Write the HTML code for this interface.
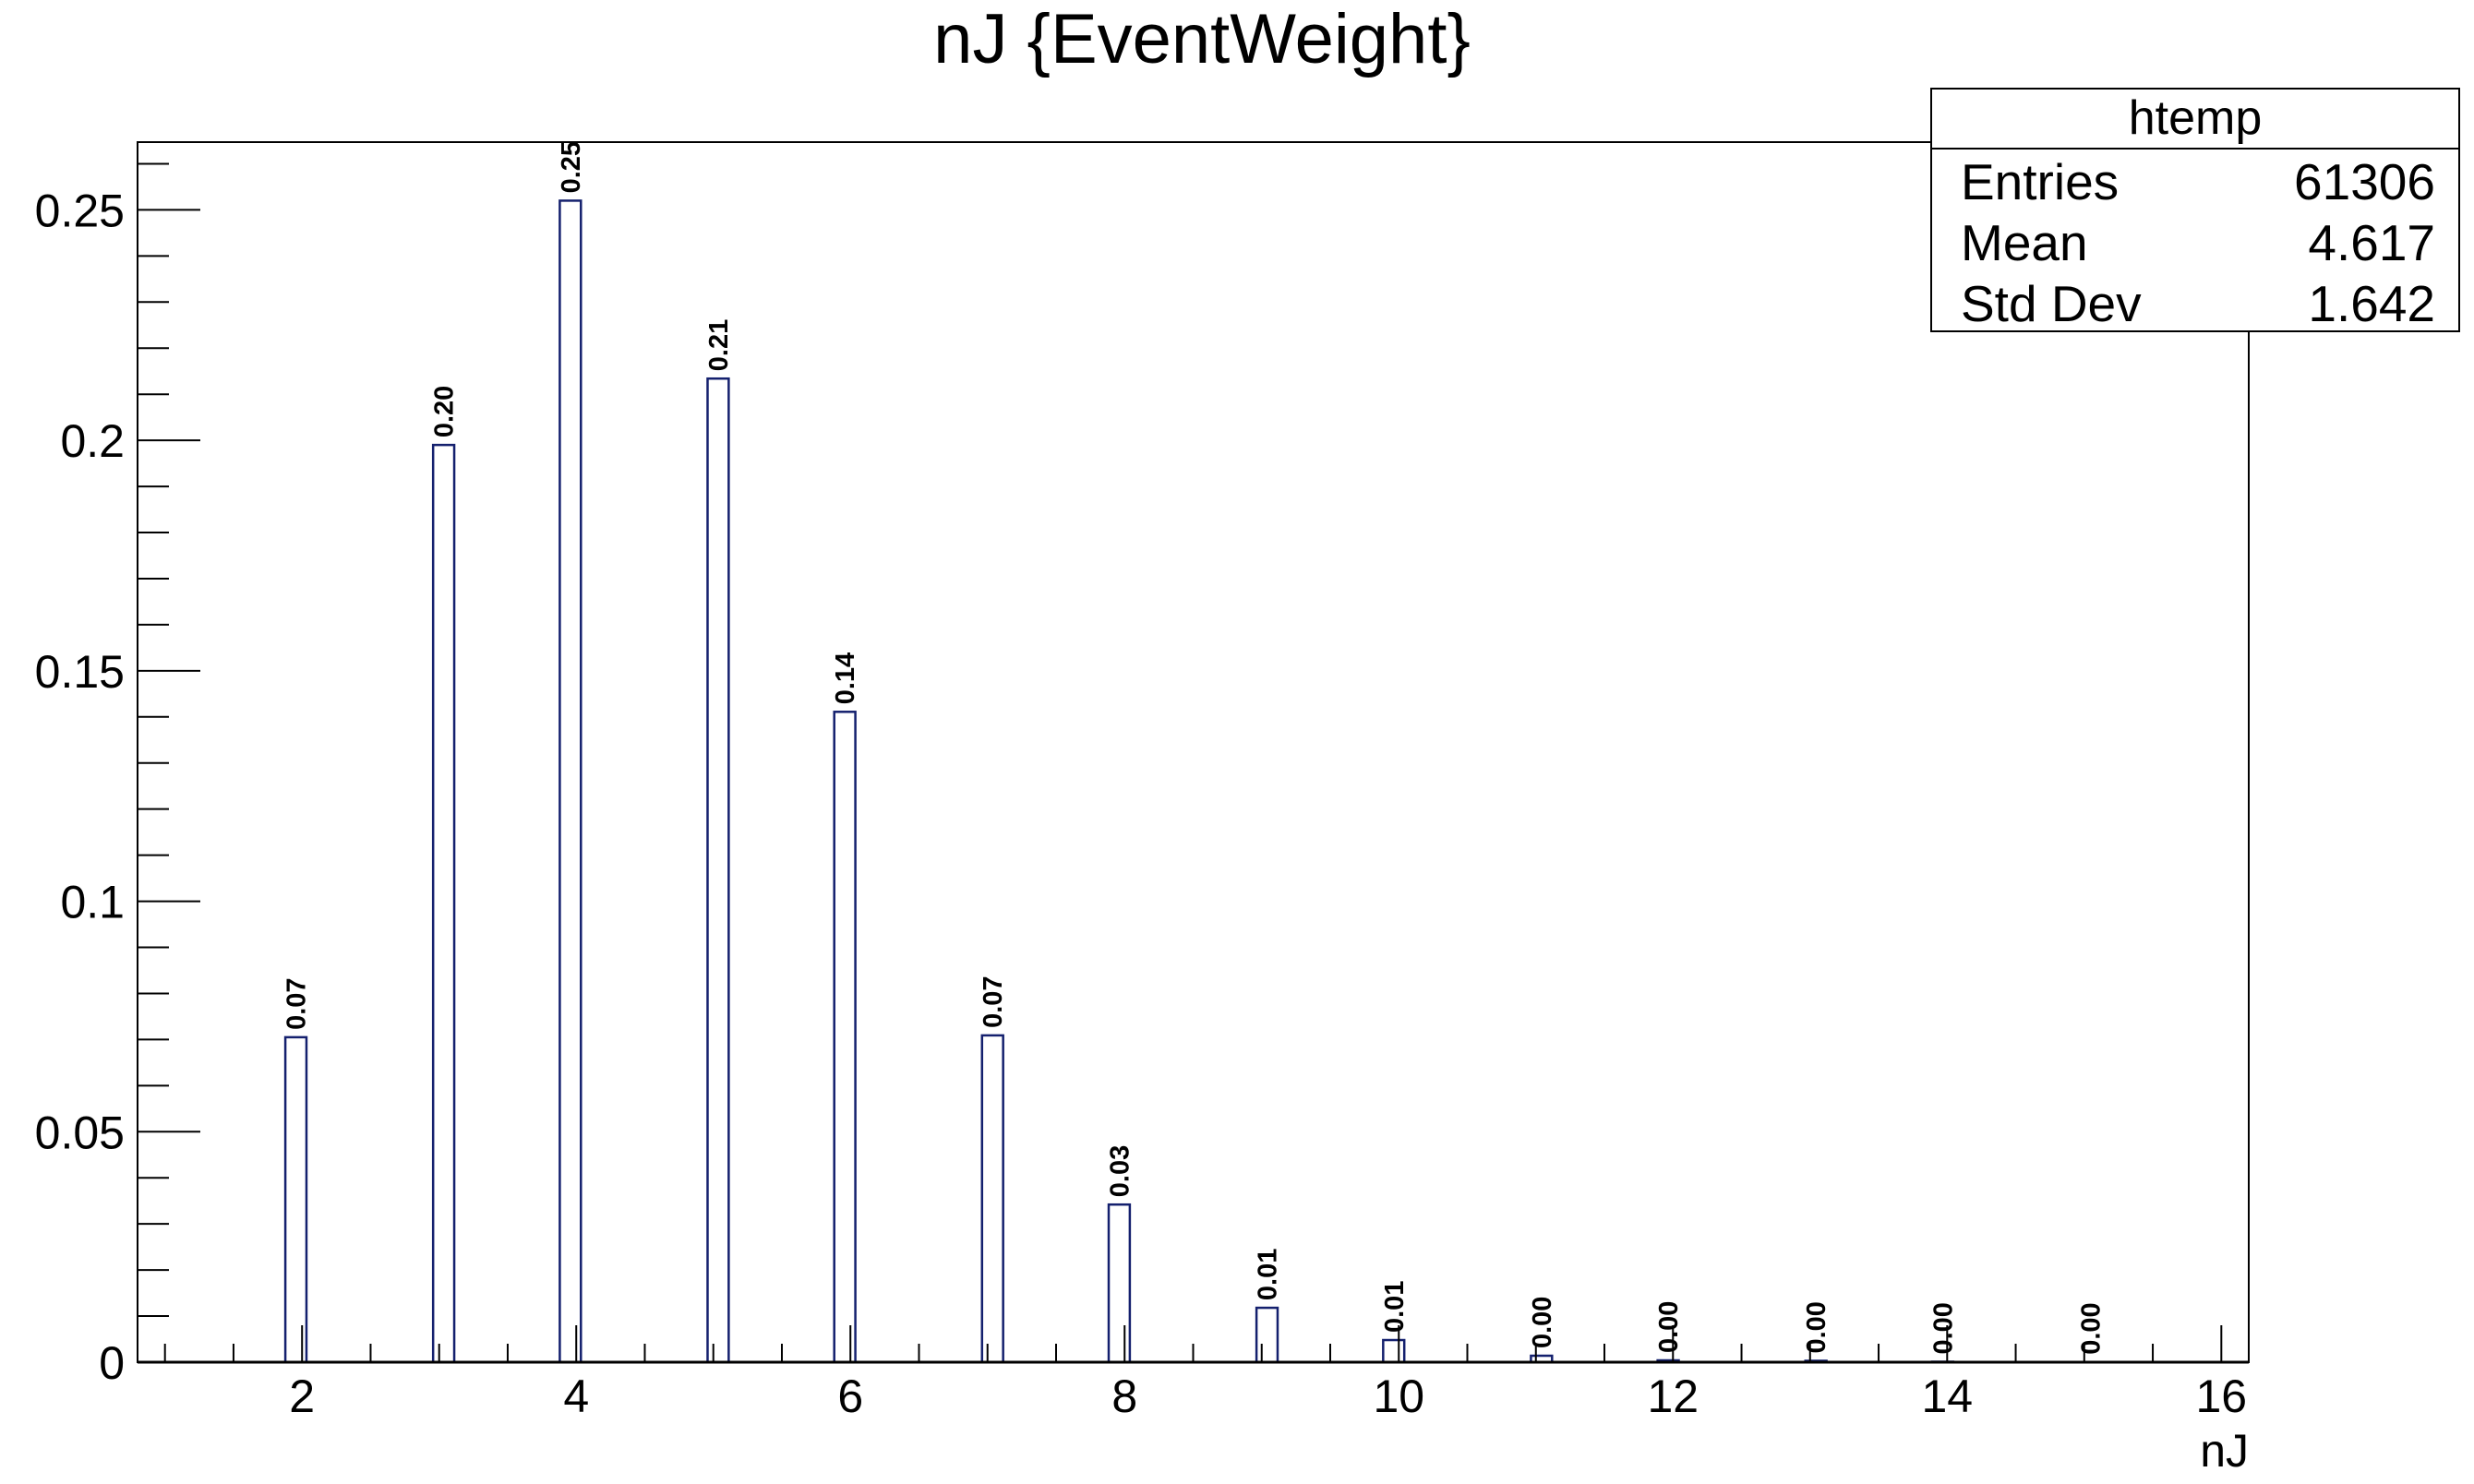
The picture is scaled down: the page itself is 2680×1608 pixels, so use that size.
<!DOCTYPE html>
<html><head><meta charset="utf-8"><style>
html,body{margin:0;padding:0;background:#fff}
svg{display:block}
text{font-family:"Liberation Sans",sans-serif}
</style></head><body>
<svg id="chart" width="2680" height="1608" viewBox="0 0 2680 1608" xmlns="http://www.w3.org/2000/svg">
<rect width="2680" height="1608" fill="#fff"/>
<text x="1302" y="68" font-size="76" text-anchor="middle">nJ {EventWeight}</text>
<rect x="149" y="154" width="2287" height="1322" fill="none" stroke="#000" stroke-width="2"/>
<g id="bars"></g>
<g id="axes"></g>
<g id="labels"></g>
<text x="2436" y="1589" font-size="50" text-anchor="end">nJ</text>
<g>
<rect x="2092" y="96" width="572" height="263" fill="#fff" stroke="#000" stroke-width="2"/>
<line x1="2092" y1="161" x2="2664" y2="161" stroke="#000" stroke-width="2"/>
<text x="2378" y="145" font-size="52" text-anchor="middle">htemp</text>
<text x="2124" y="216" font-size="55">Entries</text>
<text x="2638" y="216" font-size="55" text-anchor="end">61306</text>
<text x="2124" y="282" font-size="55">Mean</text>
<text x="2638" y="282" font-size="55" text-anchor="end">4.617</text>
<text x="2124" y="348" font-size="55">Std Dev</text>
<text x="2638" y="348" font-size="55" text-anchor="end">1.642</text>
</g>
</svg>
<script>
const categories = [2,3,4,5,6,7,8,9,10,11,12,13,14,15];
const values = [0.0705,0.199,0.252,0.2134,0.1411,0.0709,0.0342,0.0118,0.0048,0.0014,0.0004,0.0003,0.0001,0.00005];
const valueLabels = ["0.07","0.20","0.25","0.21","0.14","0.07","0.03","0.01","0.01","0.00","0.00","0.00","0.00","0.00"];
const xTickValues = [2,4,6,8,10,12,14,16];
const yTickValues = [0,0.05,0.1,0.15,0.2,0.25];
const yTickLabels = ["0","0.05","0.1","0.15","0.2","0.25"];

const NS="http://www.w3.org/2000/svg";
const X0=149,X1=2436,Y0=1476,Y1=154;
const XMIN=0.8,XMAX=16.2,YMIN=0,YMAX=0.2647,NBINS=100;
const BW=(XMAX-XMIN)/NBINS;
function xs(v){return X0+(v-XMIN)/(XMAX-XMIN)*(X1-X0);}
function ys(v){return Y0-(v-YMIN)/(YMAX-YMIN)*(Y0-Y1);}
function mk(tag,attrs,parent){const e=document.createElementNS(NS,tag);for(const k in attrs)e.setAttribute(k,attrs[k]);parent.appendChild(e);return e;}
const gb=document.getElementById('bars'),ga=document.getElementById('axes'),gl=document.getElementById('labels');

categories.forEach((c,i)=>{
  const k=Math.floor((c-XMIN)/BW+1e-9);
  const lo=XMIN+k*BW,hi=lo+BW;
  const xa=xs(lo),xb=xs(hi),yt=ys(values[i]);
  const r=mk('rect',{x:xa,y:yt,width:xb-xa,height:Math.max(Y0-yt,0.5),fill:'none',stroke:'#14206e','stroke-width':2.5},gb);
  
  
  const cx=(xa+xb)/2+10, ty=yt-8;
  const t=mk('text',{x:cx,y:ty,'font-size':29,'font-weight':'bold',transform:'rotate(-90 '+cx+' '+ty+')'},gl);
  t.textContent=valueLabels[i];
  
  
});

for(let v=1;v<=16.0001;v+=0.5){
  const major=Math.abs(v/2-Math.round(v/2))<1e-6;
  const x=xs(v);
  const l=mk('line',{x1:x,x2:x,y1:Y0,y2:Y0-(major?40:20),stroke:'#000','stroke-width':2},ga);
  
  
}
xTickValues.forEach(v=>{
  const t=mk('text',{x:xs(v),y:1530,'font-size':50,'text-anchor':'middle'},ga);
  t.textContent=String(v);
  
  
});
for(let i=0;i<=26;i++){
  const v=i*0.01, y=ys(v), major=i%5===0;
  const l=mk('line',{x1:X0,x2:X0+(major?68:34),y1:y,y2:y,stroke:'#000','stroke-width':2},ga);
  
  
}
yTickValues.forEach((v,i)=>{
  const t=mk('text',{x:135,y:ys(v)+18,'font-size':50,'text-anchor':'end'},ga);
  t.textContent=yTickLabels[i];
  
  
});
const ax=mk('line',{x1:X0,x2:X1,y1:Y0,y2:Y0,stroke:'#000','stroke-width':3},ga);


</script>
</body></html>
